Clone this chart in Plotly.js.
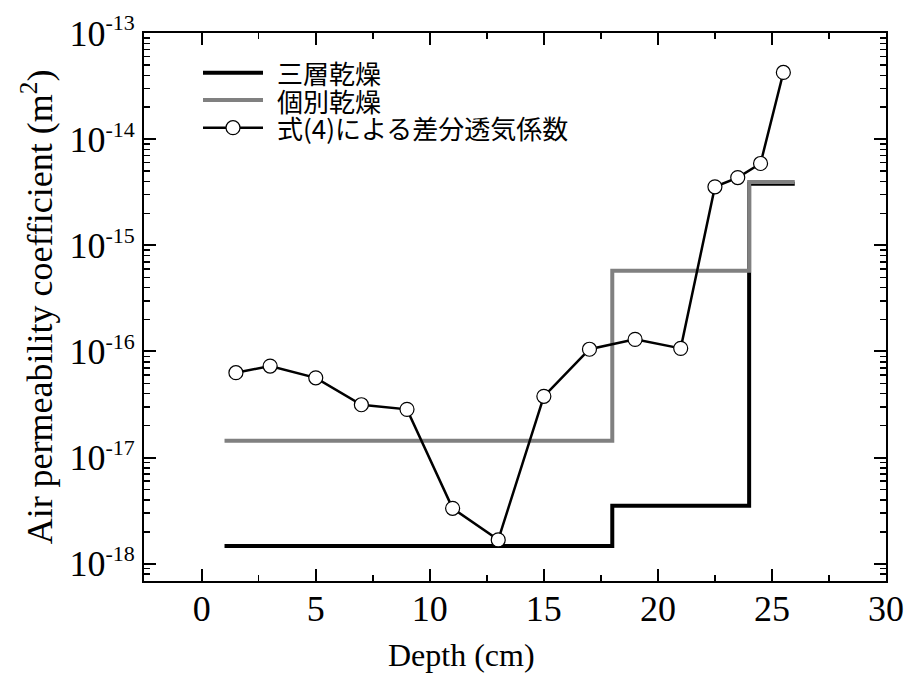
<!DOCTYPE html>
<html>
<head>
<meta charset="utf-8">
<script src="https://cdn.plot.ly/plotly-3.0.1.min.js"></script>
<style>html,body{margin:0;padding:0;background:#fff;}#chart{width:906px;height:677px;}</style>
</head>
<body>
<div id="chart"></div>
<script>
// ---- data ----
var seriesNames = ["三層乾燥", "個別乾燥", "式(4)による差分透気係数"];

// 三層乾燥 (three-layer drying), step profile: depth boundaries and level
var threeLayerX = [1, 18, 24, 26];
var threeLayerY = [1.47e-18, 3.52e-18, 3.8e-15, 3.8e-15];

// 個別乾燥 (individual drying), step profile
var individualX = [1, 18, 24, 26];
var individualY = [1.44e-17, 5.75e-16, 3.95e-15, 3.95e-15];

// 式(4)による差分透気係数 (differential air permeability by Eq. 4)
var eq4X = [1.5, 3, 5, 7, 9, 11, 13, 15, 17, 19, 21, 22.5, 23.5, 24.5, 25.5];
var eq4Y = [6.31e-17, 7.29e-17, 5.65e-17, 3.15e-17, 2.85e-17, 3.33e-18, 1.68e-18,
            3.78e-17, 1.05e-16, 1.30e-16, 1.07e-16, 3.56e-15, 4.35e-15, 5.9e-15, 4.25e-14];

// axis ticks
var yTickVals = [1e-18, 1e-17, 1e-16, 1e-15, 1e-14, 1e-13];
var yTickExp = ["-18", "-17", "-16", "-15", "-14", "-13"];
var xTitle = "Depth (cm)";
var yTitle = "Air permeability coefficient (m<sup>2</sup>)";

// ---- layout helpers (pixel -> paper) ----
var W = 906, H = 677, mL = 144, mR = 20, mT = 33, mB = 96;
var pw = W - mL - mR, ph = H - mT - mB;
function px(x) { return (x - mL) / pw; }
function py(y) { return (H - mB - y) / ph; }

var serif = "Liberation Serif, Times New Roman, serif";
var cjk = "Noto Sans CJK JP, sans-serif";

var yTickText = yTickExp.map(function (e) {
  return '10<sup><span style="font-size:22px">' + e + '</span></sup>';
});

var traces = [
  { x: threeLayerX, y: threeLayerY, name: seriesNames[0], mode: "lines",
    line: { shape: "hv", color: "#000000", width: 4 }, showlegend: false },
  { x: individualX, y: individualY, name: seriesNames[1], mode: "lines",
    line: { shape: "hv", color: "#808080", width: 4 }, showlegend: false },
  { x: eq4X, y: eq4Y, name: seriesNames[2], mode: "lines+markers",
    line: { color: "#000000", width: 2.5 },
    marker: { symbol: "circle", size: 14, color: "#ffffff", line: { color: "#000000", width: 1.2 } },
    showlegend: false }
];

// custom legend (line samples + text)
var legRows = [72.7, 100, 127.7];
var legX0 = 203, legX1 = 263, legTextX = 275;
var shapes = [
  { type: "line", xref: "paper", yref: "paper", x0: px(legX0), x1: px(legX1), y0: py(legRows[0]), y1: py(legRows[0]),
    line: { color: "#000000", width: 4 } },
  { type: "line", xref: "paper", yref: "paper", x0: px(legX0), x1: px(legX1), y0: py(legRows[1]), y1: py(legRows[1]),
    line: { color: "#808080", width: 4 } },
  { type: "line", xref: "paper", yref: "paper", x0: px(legX0), x1: px(legX1), y0: py(legRows[2]), y1: py(legRows[2]),
    line: { color: "#000000", width: 2.5 } },
  { type: "circle", xref: "paper", yref: "paper", xsizemode: "pixel", ysizemode: "pixel",
    xanchor: px((legX0 + legX1) / 2), yanchor: py(legRows[2]), x0: -7, x1: 7, y0: -7, y1: 7,
    fillcolor: "#ffffff", line: { color: "#000000", width: 1.2 } }
];
var annotations = seriesNames.map(function (n, i) {
  return { text: n, xref: "paper", yref: "paper", x: px(legTextX), y: py(legRows[i]),
           xanchor: "left", yanchor: "middle", showarrow: false,
           font: { family: cjk, size: 26, color: "#000000" } };
});
// x-axis title, placed off-centre as in the reference
annotations.push({ text: xTitle, xref: "paper", yref: "paper", x: px(461), y: py(655),
                   xanchor: "center", yanchor: "middle", showarrow: false,
                   font: { family: serif, size: 32, color: "#000000" } });

var axisCommon = {
  showline: true, linecolor: "#000000", linewidth: 2, mirror: "allticks",
  ticks: "inside", ticklen: 12, tickwidth: 2, tickcolor: "#000000",
  showgrid: false, zeroline: false,
  tickfont: { family: serif, size: 36, color: "#000000" }
};

var layout = {
  width: W, height: H,
  margin: { l: mL, r: mR, t: mT, b: mB, pad: 0 },
  paper_bgcolor: "#ffffff", plot_bgcolor: "#ffffff",
  showlegend: false,
  xaxis: Object.assign({}, axisCommon, {
    range: [-2.53, 30], tickmode: "linear", tick0: 0, dtick: 5, ticklabelstandoff: -5,
    minor: { ticks: "inside", ticklen: 6, tickwidth: 1.5, tickcolor: "#000000", tickmode: "linear", tick0: 0, dtick: 2.5, showgrid: false }
  }),
  yaxis: Object.assign({}, axisCommon, {
    type: "log", range: [-18.162, -13],
    tickmode: "array", tickvals: yTickVals, ticktext: yTickText,
    minor: { ticks: "inside", ticklen: 6, tickwidth: 1.5, tickcolor: "#000000", tickmode: "linear", dtick: "D1", showgrid: false },
    title: { text: yTitle, font: { family: serif, size: 36, color: "#000000" }, standoff: 6 }
  }),
  shapes: shapes,
  annotations: annotations
};

Plotly.newPlot("chart", traces, layout, { staticPlot: true, displayModeBar: false });
</script>
</body>
</html>
